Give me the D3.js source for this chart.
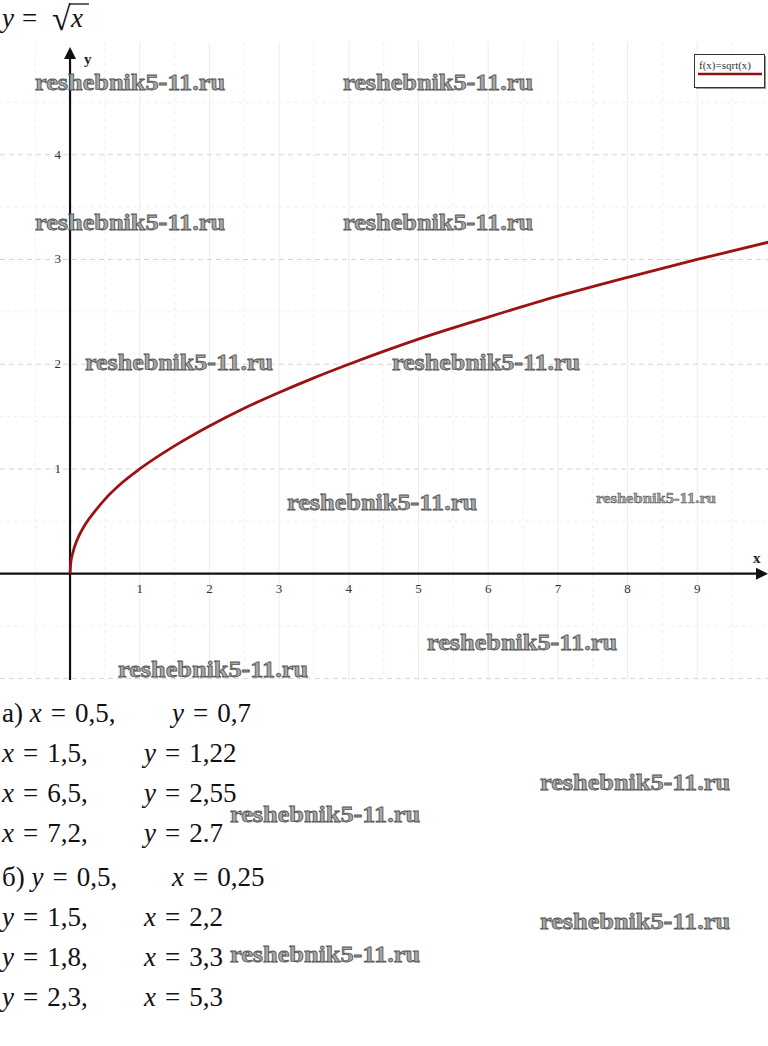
<!DOCTYPE html>
<html>
<head>
<meta charset="utf-8">
<script src="https://cdn.jsdelivr.net/npm/d3@7/dist/d3.min.js"></script>
<style>
  html, body { margin: 0; padding: 0; background: #fff; }
  svg { display: block; }
</style>
</head>
<body>
<svg width="768" height="1046"></svg>
<script>
// DATA
const xTicks = [1, 2, 3, 4, 5, 6, 7, 8, 9];
const yTicks = [1, 2, 3, 4];
// points
const curveX = [0, 0.01, 0.04, 0.1, 0.2, 0.35, 0.5, 0.75, 1, 1.5, 2, 2.5, 3, 3.5, 4, 5, 6, 7, 8, 9, 10.05];
const curveY = [0, 0.1, 0.2, 0.32, 0.45, 0.59, 0.71, 0.87, 1, 1.22, 1.41, 1.58, 1.73, 1.87, 2, 2.24, 2.45, 2.65, 2.83, 3, 3.17];
const legendLabel = 'f(x)=sqrt(x)';

const partA = [
  ['а) ', 'x', '0,5,', 'y', '0,7'],
  ['', 'x', '1,5,', 'y', '1,22'],
  ['', 'x', '6,5,', 'y', '2,55'],
  ['', 'x', '7,2,', 'y', '2.7']
];
const partB = [
  ['б) ', 'y', '0,5,', 'x', '0,25'],
  ['', 'y', '1,5,', 'x', '2,2'],
  ['', 'y', '1,8,', 'x', '3,3'],
  ['', 'y', '2,3,', 'x', '5,3']
];
const watermark = 'reshebnik5-11.ru';
const marks = [
  [35, 90, 24, 190], [343, 90, 24, 190], [35, 230, 24, 190], [343, 230, 24, 190],
  [85, 370, 24, 188], [392, 370, 24, 188], [287, 510, 24, 190], [596, 503, 15, 120],
  [427, 650, 24, 190], [118, 677, 24, 190], [540, 790, 24, 190], [230, 822, 24, 190],
  [540, 929, 24, 190], [230, 962, 24, 190]
];

const svg = d3.select('svg');
const serif = '"Liberation Serif", serif';
const EQ = '\u2004=\u2004';

// SCALES
const x = d3.scaleLinear().domain([-1.005, 10.015]).range([0, 768]);
const y = d3.scaleLinear().domain([-1.015, 5.0]).range([680, 50]);
const gridTop = 42, gridBottom = 680;

// TITLE
svg.append('text')
    .attr('x', 2).attr('y', 27)
    .attr('font-family', serif)
    .attr('font-style', 'italic')
    .attr('font-size', 27)
    .attr('fill', '#111')
    .text('y');
svg.append('text')
    .attr('x', 22).attr('y', 27)
    .attr('font-family', serif)
    .attr('font-size', 27)
    .attr('fill', '#111')
    .text('=');
svg.append('text')
    .attr('x', 52).attr('y', 30)
    .attr('font-family', serif)
    .attr('font-size', 34)
    .attr('fill', '#111')
    .text('√');
svg.append('text')
    .attr('x', 71).attr('y', 27)
    .attr('font-family', serif)
    .attr('font-style', 'italic')
    .attr('font-size', 27)
    .attr('fill', '#111')
    .text('x');
svg.append('line')
    .attr('x1', 69).attr('x2', 89)
    .attr('y1', 4).attr('y2', 4)
    .attr('stroke', '#111')
    .attr('stroke-width', 1.3);

// GRID
const minorX = d3.range(-0.5, 10.01, 1);
const minorY = d3.range(-0.5, 5, 1);
const grid = svg.append('g');
grid.selectAll('.mx')
  .data(minorX)
  .join('line')
    .attr('x1', d => x(d)).attr('x2', d => x(d))
    .attr('y1', gridTop).attr('y2', gridBottom)
    .attr('stroke', '#eeeeee')
    .attr('stroke-dasharray', '3,4');
grid.selectAll('.my')
  .data(minorY)
  .join('line')
    .attr('x1', 0).attr('x2', 768)
    .attr('y1', d => y(d)).attr('y2', d => y(d))
    .attr('stroke', '#eeeeee')
    .attr('stroke-dasharray', '3,4');
grid.selectAll('.vx')
  .data(xTicks)
  .join('line')
    .attr('x1', d => x(d)).attr('x2', d => x(d))
    .attr('y1', gridTop).attr('y2', gridBottom)
    .attr('stroke', '#ececec');
grid.selectAll('.hy')
  .data(yTicks.concat([-1]))
  .join('line')
    .attr('x1', 0).attr('x2', 768)
    .attr('y1', d => y(d)).attr('y2', d => y(d))
    .attr('stroke', '#d4d4d4')
    .attr('stroke-dasharray', '5,4');

// AXES
const axes = svg.append('g').attr('stroke', '#111').attr('stroke-width', 2.2);
axes.append('line')
    .attr('x1', 0).attr('x2', 760)
    .attr('y1', y(0)).attr('y2', y(0));
axes.append('line')
    .attr('x1', x(0)).attr('x2', x(0))
    .attr('y1', gridBottom).attr('y2', 56);
svg.append('path')
    .attr('d', `M768 ${y(0)} L756 ${y(0) - 6} L756 ${y(0) + 6} Z`)
    .attr('fill', '#111');
svg.append('path')
    .attr('d', `M${x(0)} 47 L${x(0) - 6} 59 L${x(0) + 6} 59 Z`)
    .attr('fill', '#111');
svg.append('text')
    .attr('x', 753).attr('y', 563)
    .attr('font-family', serif).attr('font-weight', 'bold')
    .attr('font-size', 15).attr('fill', '#222')
    .text('x');
svg.append('text')
    .attr('x', 84).attr('y', 64)
    .attr('font-family', serif).attr('font-weight', 'bold')
    .attr('font-size', 15).attr('fill', '#222')
    .text('y');

svg.append('g').selectAll('text')
  .data(xTicks)
  .join('text')
    .attr('x', d => x(d))
    .attr('y', y(0) + 19)
    .attr('text-anchor', 'middle')
    .attr('font-family', serif)
    .attr('font-size', 13)
    .attr('fill', '#333')
    .text(d => d);
svg.append('g').selectAll('text')
  .data(yTicks)
  .join('text')
    .attr('x', x(0) - 9)
    .attr('y', d => y(d) + 4)
    .attr('text-anchor', 'end')
    .attr('font-family', serif)
    .attr('font-size', 13)
    .attr('fill', '#333')
    .text(d => d);

// CURVE
const pts = curveX.map((d, i) => [d, curveY[i]]);
svg.append('path')
    .datum(pts)
    .attr('d', d3.line()
      .x(d => x(d[0]))
      .y(d => y(d[1]))
      .curve(d3.curveMonotoneX))
    .attr('fill', 'none')
    .attr('stroke', '#9c1212')
    .attr('stroke-width', 2.8);

// LEGEND
svg.append('rect')
    .attr('x', 696).attr('y', 56).attr('width', 70).attr('height', 33)
    .attr('fill', '#999');
svg.append('rect')
    .attr('x', 694.5).attr('y', 54.5).attr('width', 70).attr('height', 33)
    .attr('fill', '#fff').attr('stroke', '#333');
svg.append('text')
    .attr('x', 699).attr('y', 69)
    .attr('font-family', serif)
    .attr('font-size', 11)
    .attr('fill', '#333')
    .text(legendLabel);
svg.append('line')
    .attr('x1', 698).attr('x2', 762)
    .attr('y1', 74).attr('y2', 74)
    .attr('stroke', '#8e1010').attr('stroke-width', 2.5);

// ANSWERS
function writeRows(rows, top) {
  rows.forEach((r, i) => {
    const base = top + i * 40;
    const t1 = svg.append('text')
        .attr('x', 2).attr('y', base)
        .attr('font-family', serif).attr('font-size', 27).attr('fill', '#111');
    if (r[0]) t1.append('tspan').text(r[0]);
    t1.append('tspan').attr('font-style', 'italic').text(r[1]);
    t1.append('tspan').text(EQ + r[2]);
    const t2 = svg.append('text')
        .attr('x', i === 0 ? 172 : 144).attr('y', base)
        .attr('font-family', serif).attr('font-size', 27).attr('fill', '#111');
    t2.append('tspan').attr('font-style', 'italic').text(r[3]);
    t2.append('tspan').text(EQ + r[4]);
  });
}
writeRows(partA, 722);
writeRows(partB, 886);

// WATERMARKS
svg.append('g').selectAll('text')
  .data(marks)
  .join('text')
    .attr('x', d => d[0])
    .attr('y', d => d[1])
    .attr('font-family', serif)
    .attr('font-weight', 'bold')
    .attr('font-size', d => d[2])
    .attr('textLength', d => d[3])
    .attr('lengthAdjust', 'spacingAndGlyphs')
    .attr('fill', '#a8a8a8')
    .attr('stroke', '#555')
    .attr('stroke-width', d => d[2] > 20 ? 0.8 : 0.5)
    .text(watermark);
</script>
</body>
</html>
